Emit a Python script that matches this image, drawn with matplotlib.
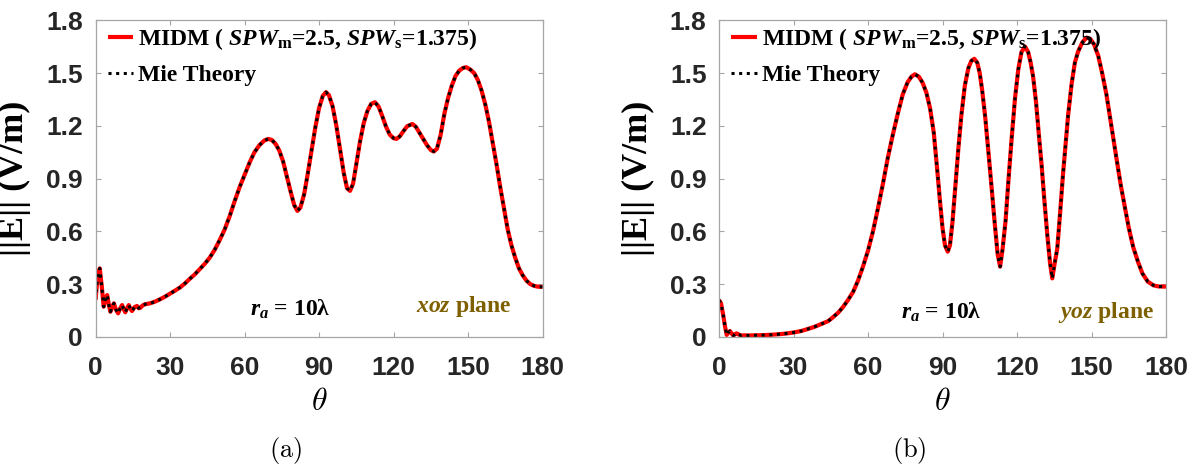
import matplotlib
matplotlib.use("Agg")
import matplotlib.pyplot as plt

# ---- field magnitude along theta, xoz plane ----
theta_xoz = [0, 0.8, 1.7, 2.5, 3.3, 4.0, 4.7, 5.4, 6.0, 6.7, 7.4, 8.2, 9.1, 9.9,
             10.7, 11.4, 12.0, 12.7, 13.4, 14.0, 14.7, 15.7, 16.7, 17.4, 18.1, 19,
             20, 22, 24, 26, 28, 30, 32, 34, 36, 38, 40, 42, 44, 46, 48, 50, 52,
             54, 56, 58, 60, 62, 64, 66, 68, 69.6, 71, 72.5, 74, 75.5, 77, 78.5,
             80, 81.3, 82.5, 84, 85.5, 87, 88.5, 90, 91.5, 92.8, 94, 95.5, 97,
             98.5, 100, 101.3, 102.5, 103.7, 105, 106.5, 108, 109.5, 111, 112.5,
             114, 115.5, 117, 118.5, 120, 121.2, 122.5, 124, 125.5, 127.6, 129,
             130.5, 132, 133.5, 135, 136.2, 137.5, 139, 140.5, 142, 143.5, 145,
             146.5, 148, 149.3, 151, 152.5, 154, 155.5, 157, 158.5, 160, 161.5,
             163, 164.5, 166, 167.5, 169, 170.5, 172, 173.5, 175, 176.5, 178, 180]
e_xoz = [0.209, 0.33, 0.389, 0.29, 0.171, 0.215, 0.237, 0.18, 0.142, 0.17, 0.19,
         0.155, 0.133, 0.16, 0.18, 0.155, 0.139, 0.162, 0.18, 0.16, 0.146, 0.168,
         0.175, 0.162, 0.165, 0.178, 0.185, 0.19, 0.20, 0.213, 0.228, 0.245,
         0.262, 0.28, 0.303, 0.33, 0.355, 0.385, 0.415, 0.45, 0.495, 0.55, 0.61,
         0.685, 0.77, 0.85, 0.92, 0.99, 1.05, 1.09, 1.117, 1.126, 1.12, 1.098,
         1.06, 1.0, 0.915, 0.83, 0.75, 0.716, 0.735, 0.81, 0.93, 1.06, 1.19,
         1.30, 1.37, 1.392, 1.375, 1.31, 1.2, 1.065, 0.93, 0.845, 0.83, 0.87,
         0.98, 1.11, 1.215, 1.285, 1.325, 1.335, 1.31, 1.255, 1.195, 1.15, 1.13,
         1.126, 1.14, 1.17, 1.198, 1.211, 1.195, 1.16, 1.125, 1.09, 1.063, 1.054,
         1.07, 1.15, 1.27, 1.36, 1.43, 1.485, 1.515, 1.53, 1.534, 1.52, 1.5,
         1.46, 1.4, 1.32, 1.22, 1.1, 0.98, 0.85, 0.73, 0.61, 0.52, 0.45, 0.39,
         0.35, 0.32, 0.30, 0.29, 0.285, 0.283]

# ---- field magnitude along theta, yoz plane ----
theta_yoz = [0, 0.8, 1.7, 2.4, 3.1, 3.8, 4.4, 5.1, 5.8, 6.5, 7.1, 8.0, 9.1, 10,
             12, 15, 18, 21, 24, 27, 30, 33, 36, 38.6, 41, 44, 46, 48, 50, 52, 54,
             56, 58, 60, 62, 64, 66, 68, 70, 72, 74, 76, 77.5, 78.9, 80.5, 82,
             83.5, 85, 86.5, 88, 89, 90, 91, 92.1, 93, 94, 95.2, 96.4, 97.6, 99,
             100.4, 101.6, 102.8, 104, 105, 106, 107.2, 108.5, 109.8, 111, 112.2,
             113.2, 114.2, 115.4, 116.5, 117.8, 119.2, 120.5, 121.8, 123.2, 124.5,
             125.5, 126.5, 127.7, 128.8, 129.9, 131, 132.2, 133.3, 134.2, 135.2,
             136.2, 137.3, 138.5, 139.6, 140.6, 142, 143.3, 144.6, 146.3, 148,
             149.5, 151, 152.7, 154.3, 156, 158, 160, 161.7, 163.4, 165, 166.8,
             168.7, 170.5, 172.7, 175, 177, 180]
e_yoz = [0.209, 0.19, 0.123, 0.06, 0.01, 0.025, 0.032, 0.018, 0.006, 0.015, 0.019,
         0.012, 0.006, 0.008, 0.007, 0.008, 0.009, 0.011, 0.014, 0.018, 0.024,
         0.032, 0.045, 0.057, 0.071, 0.089, 0.112, 0.137, 0.17, 0.21, 0.255,
         0.32, 0.40, 0.49, 0.6, 0.73, 0.87, 1.02, 1.15, 1.27, 1.38, 1.45, 1.48,
         1.494, 1.48, 1.445, 1.39, 1.3, 1.16, 0.93, 0.77, 0.62, 0.52, 0.484,
         0.52, 0.65, 0.86, 1.073, 1.26, 1.43, 1.528, 1.57, 1.582, 1.56, 1.5, 1.4,
         1.25, 1.05, 0.845, 0.65, 0.47, 0.399, 0.5, 0.66, 0.88, 1.12, 1.357,
         1.52, 1.62, 1.652, 1.62, 1.56, 1.48, 1.33, 1.15, 0.978, 0.78, 0.58,
         0.42, 0.332, 0.42, 0.5, 0.693, 0.92, 1.1, 1.263, 1.44, 1.56, 1.623,
         1.675, 1.703, 1.695, 1.665, 1.6, 1.5, 1.38, 1.2, 1.02, 0.87, 0.74, 0.62,
         0.51, 0.427, 0.36, 0.313, 0.292, 0.286, 0.285]

x_ticks = [0, 30, 60, 90, 120, 150, 180]
y_ticks = [0, 0.3, 0.6, 0.9, 1.2, 1.5, 1.8]
y_ticklabels = ["0", "0.3", "0.6", "0.9", "1.2", "1.5", "1.8"]
x_ticklabels = ["0", "30", "60", "90", "120", "150", "180"]

midm_label = r"MIDM ( $\mathit{SPW}_\mathrm{m}$=2.5, $\mathit{SPW}_\mathrm{s}$=1.375)"
mie_label = "Mie Theory"
plane_labels = [r"$xoz$ plane", r"$yoz$ plane"]
captions = ["(a)", "(b)"]

plt.rcParams["mathtext.fontset"] = "custom"
plt.rcParams["mathtext.rm"] = "Liberation Serif:bold"
plt.rcParams["mathtext.it"] = "Liberation Serif:italic:bold"
plt.rcParams["mathtext.bf"] = "Liberation Serif:bold"

SERIF_B = dict(family="Liberation Serif", weight="bold")
TICK_COLOR = "#262626"
SPINE_COLOR = "#a6a6a6"

W, H = 1195, 469
fig = plt.figure(figsize=(W / 100, H / 100), dpi=100)

panels = [
    dict(left=95.5, theta=theta_xoz, e=e_xoz, plane=plane_labels[0],
         ra_xy=(78.3, 0.155), plane_xy=(148.3, 0.17), cap=captions[0]),
    dict(left=719.0, theta=theta_yoz, e=e_yoz, plane=plane_labels[1],
         ra_xy=(89.4, 0.14), plane_xy=(155.8, 0.14), cap=captions[1]),
]

ax_w, ax_top, ax_bot = 447.0, 20.5, 336.7
for p in panels:
    ax = fig.add_axes([p["left"] / W, (H - ax_bot) / H, ax_w / W, (ax_bot - ax_top) / H])
    ax.plot(p["theta"], p["e"], color="#ff0000", lw=3.0, solid_capstyle="butt",
            label=midm_label)
    ax.plot(p["theta"], p["e"], color="black", lw=2.2, linestyle=(0, (1, 1.5)),
            label=mie_label)
    ax.set_xlim(0, 180)
    ax.set_ylim(0, 1.8)
    ax.set_xticks(x_ticks)
    ax.set_xticklabels(x_ticklabels)
    ax.set_yticks(y_ticks)
    ax.set_yticklabels(y_ticklabels)
    ax.tick_params(direction="in", length=3.5, width=0.8, color=SPINE_COLOR,
                   top=True, right=True, labelcolor=TICK_COLOR)
    ax.tick_params(axis="y", pad=9)
    ax.tick_params(axis="x", pad=14)
    for lab in ax.get_xticklabels() + ax.get_yticklabels():
        lab.set_fontfamily("Liberation Sans")
        lab.set_fontweight("bold")
        lab.set_fontsize(19)
    for sp in ax.spines.values():
        sp.set_color(SPINE_COLOR)
        sp.set_linewidth(0.9)

    ax.set_ylabel("||E|| (V/m)", fontsize=26, color="black", **SERIF_B)
    ax.yaxis.set_label_coords(-64 / ax_w, 0.5)
    ax.set_xlabel(r"$\theta$", fontsize=23, math_fontfamily="cm", labelpad=4)

    leg = ax.legend(loc="upper left", bbox_to_anchor=(12 / ax_w, 1 - 6 / 316),
                    frameon=False, borderpad=0, borderaxespad=0,
                    handlelength=1.1, handletextpad=0.2, labelspacing=0.5,
                    prop=dict(size=17, **SERIF_B))

    ax.text(p["ra_xy"][0], p["ra_xy"][1], r"$r_a$ = 10λ", fontsize=17,
            ha="center", va="center", color="black", **SERIF_B)
    ax.text(p["plane_xy"][0], p["plane_xy"][1], p["plane"], fontsize=17,
            ha="center", va="center", color="#7f6000", **SERIF_B)

    cx = (p["left"] + ax_w / 2 - 33) / W
    fig.text(cx, (H - 450) / H, r"$\mathrm{" + p["cap"] + "}$", fontsize=19,
             math_fontfamily="cm", ha="center", va="center")

fig.savefig("out.png", dpi=100)
